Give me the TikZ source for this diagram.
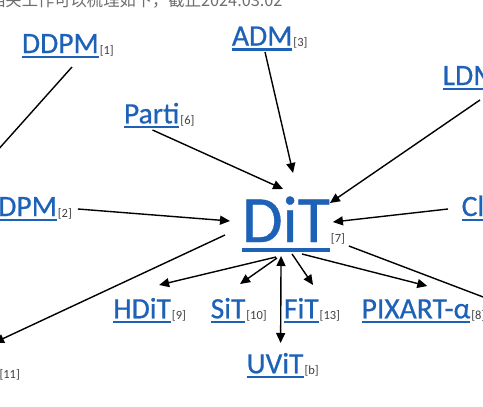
\documentclass[tikz,border=0pt]{standalone}
\usepackage{fontspec}
\setmainfont{Carlito}
\newfontfamily\linkfont{Carlito}[FakeBold=0.6]
\newfontfamily\cjk{Noto Sans CJK SC}
\usetikzlibrary{arrows.meta,calc}
\definecolor{linkblue}{RGB}{30,98,184}
\definecolor{refgray}{RGB}{64,64,64}
\definecolor{txtgray}{RGB}{110,110,110}
\tikzset{
  lbl/.style={anchor=base west,inner sep=0pt,outer sep=0pt,text=linkblue,font=\linkfont\fontsize{29.5}{30}\selectfont},
  biglbl/.style={anchor=base west,inner sep=0pt,outer sep=0pt,text=linkblue,font=\linkfont\fontsize{66}{66}\selectfont},
  reflbl/.style={anchor=base west,inner sep=0pt,outer sep=0pt,text=refgray,font=\fontsize{12.5}{13}\selectfont},
  ul/.style={draw=linkblue,line width=2.2pt},
  bigul/.style={draw=linkblue,line width=3.2pt},
  con/.style={line width=1.4pt,draw=black},
  >={Triangle[length=10pt,width=9pt]},
  arr/.style={con,->},
  dbl/.style={con,<->},
}
\begin{document}
\begin{tikzpicture}[x=1pt,y=-1pt]
\useasboundingbox (0,0) rectangle (483,407);
\clip (0,0) rectangle (483,407);
\fill[white] (0,0) rectangle (483,407);

\node[anchor=base west,inner sep=0pt,text=txtgray,font=\cjk\fontsize{16.3}{17}\selectfont] (head) at (-11,6.5) {相关工作可以梳理如下，截止2024.03.02};

% labels
\node[lbl] (ddpm) at (22,53) {DDPM};
\node[reflbl] (ddpmr) at ($(ddpm.base east)+(1,1)$) {[1]};
\node[lbl] (adm) at (232,45.5) {ADM};
\node[reflbl] (admr) at ($(adm.base east)+(1,1)$) {[3]};
\node[lbl] (ldm) at (442.7,85) {LDM};
\node[lbl] (parti) at (124,123.3) {Parti};
\node[reflbl] (partir) at ($(parti.base east)+(1,1)$) {[6]};
\node[lbl] (dpm) at (-1.7,216) {DPM};
\node[reflbl] (dpmr) at ($(dpm.base east)+(1,1)$) {[2]};
\node[lbl] (cl) at (461.7,216) {Cl};
\node[biglbl] (dit) at (242,242) {DiT};
\node[reflbl] (ditr) at ($(dit.base east)+(1,0)$) {[7]};
\node[lbl] (hdit) at (113.3,318.3) {HDiT};
\node[reflbl] (hditr) at ($(hdit.base east)+(1,1)$) {[9]};
\node[lbl] (sit) at (210.7,318.3) {SiT};
\node[reflbl] (sitr) at ($(sit.base east)+(1,1)$) {[10]};
\node[lbl] (fit) at (284,318.3) {FiT};
\node[reflbl] (fitr) at ($(fit.base east)+(1,1)$) {[13]};
\node[lbl] (pixart) at (361.7,318.3) {PIXART-α};
\node[reflbl] (pixartr) at ($(pixart.base east)+(1,1)$) {[8]};
\node[lbl] (uvit) at (246.7,373.3) {UViT};
\node[reflbl] (uvitr) at ($(uvit.base east)+(1,1)$) {[b]};
\node[reflbl] (r11) at (-0.5,378) {[11]};

% underlines
\foreach \n in {ddpm,adm,ldm,parti,dpm,cl,hdit,sit,fit,pixart,uvit}
  \draw[ul] ($(\n.base west)+(0,4)$) -- ($(\n.base east)+(0,4)$);
\draw[bigul] ($(dit.base west)+(0,8)$) -- ($(dit.base east)+(0,8)$);

% off-canvas ends
\coordinate (offl) at (-25,175.6);
\coordinate (offbl) at (-6,342.8);
\coordinate (offr) at (520,311);

% connectors
\draw[con] ($(ddpm.base)+(11.6,14)$) -- (offl);
\draw[arr] ($(adm.base)+(2.8,6.5)$) -- ($(dit.base)+(7.1,-69)$);
\draw[arr] ($(ldm.base)+(9.4,15)$) -- ($(dit.base east)+(0,-39)$);
\draw[arr] ($(parti.base)+(0.8,6.7)$) -- ($(dit.base)+(-2.9,-53)$);
\draw[arr] ($(dpmr.base east)+(6,-8)$) -- ($(dit.base west)+(-12,-21)$);
\draw[arr] ($(cl.base west)+(-13.7,-7)$) -- ($(dit.base east)+(3,-20)$);

\draw[arr] ($(dit.base west)+(-17,-7)$) -- (offbl);
\draw[arr] ($(dit.base)+(-9.9,15)$) -- ($(hdit.base)+(17,-33.3)$);
\draw[arr] ($(dit.base)+(-8.9,16)$) -- ($(sit.base)+(12,-34.3)$);
\draw[dbl] ($(dit.base)+(-4.9,14)$) -- ($(uvit.base)+(5.5,-30.3)$);
\draw[arr] ($(dit.base)+(6.1,12)$) -- ($(fit.base)+(11.7,-33.3)$);
\draw[arr] ($(dit.base)+(16.1,12)$) -- ($(pixart.base)+(11.3,-32.3)$);
\draw[arr] ($(ditr.base east)+(4,4)$) -- (offr);
\end{tikzpicture}
\end{document}
